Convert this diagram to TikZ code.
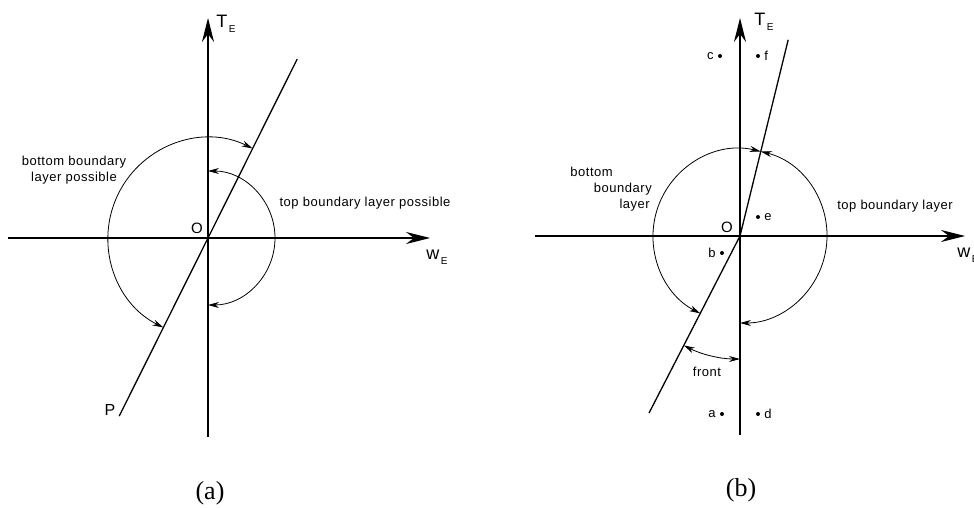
\documentclass[tikz,border=0pt]{standalone}
\usepackage{fontspec}
\setmainfont{Liberation Serif}
\setsansfont{Liberation Sans}
\newfontfamily\lblfont[LetterSpace=4]{Liberation Sans}
\usetikzlibrary{arrows.meta,positioning}
\newcommand{\axlbl}[2]{#1\kern1.5pt\raisebox{-5pt}{\fontsize{10}{10}\selectfont #2}}
\tikzset{
  axis/.style={line width=1.3pt, -{Stealth[length=24pt, width=12pt, inset=8pt]}},
  trace/.style={line width=1.3pt},
  swing/.style={line width=0.8pt,
                {Stealth[length=11pt, width=6pt]}-{Stealth[length=11pt, width=6pt]}},
  lbl/.style={font=\lblfont\fontsize{13}{16}\selectfont, inner sep=0pt},
  sym/.style={font=\sffamily\fontsize{18}{18}\selectfont, inner sep=0pt},
  dot/.style={circle, fill, inner sep=0pt, minimum size=4pt},
  panel/.style={font=\rmfamily\fontsize{26}{26}\selectfont, inner sep=0pt},
}

\begin{document}
\begin{tikzpicture}[x=1pt, y=1pt]
  \useasboundingbox (0,0) rectangle (974,507);

  % (a)
  \begin{scope}[shift={(208,269)}]
    \coordinate (Oa) at (0,0);
    \coordinate (Ta) at (0,220);  \coordinate (Ba) at (0,-199);
    \coordinate (Wa) at (222,0);  \coordinate (La) at (-200,0);
    \coordinate (Pa) at (243.5:199); \coordinate (Qa) at (63.5:200);
    \draw[axis] (Ba) -- (Ta);
    \draw[axis] (La) -- (Wa);
    \draw[trace] (Pa) -- (Qa);
    \draw[swing] ([shift={(63.5:100)}]Oa) arc[start angle=63.5, end angle=243.5, radius=100];
    \draw[swing] ([shift={(90:67)}]Oa) arc[start angle=90, end angle=-90, radius=67];
    \node[sym] (ta) at (18,214) {\axlbl{T}{E}};
    \node[sym] (wa) at (229,-19) {\axlbl{w}{E}};
    \node[sym, font=\sffamily\fontsize{15}{15}\selectfont] (oa) at (-11,10) {O};
    \node[sym, font=\sffamily\fontsize{16}{16}\selectfont] (pa) at (-98,-172) {P};
    \node[lbl, align=center] (bota) at (-134,68) {bottom boundary\\layer possible};
    \node[lbl] (topa) at (157,35) {top boundary layer possible};
    \node[panel] (capa) at (2,-255) {(a)};
  \end{scope}

  % (b)
  \begin{scope}[shift={(740,271)}]
    \coordinate (Ob) at (0,0);
    \coordinate (Tb) at (0,218);  \coordinate (Bb) at (0,-199);
    \coordinate (Wb) at (225,0);  \coordinate (Lb) at (-205,0);
    \coordinate (Pb) at (242.8:199); \coordinate (Qb) at (76.2:202);
    \draw[axis] (Bb) -- (Tb);
    \draw[axis] (Lb) -- (Wb);
    \draw[trace] (Pb) -- (Ob) -- (Qb);
    \draw[swing] ([shift={(76.2:87)}]Ob) arc[start angle=76.2, end angle=242.8, radius=87];
    \draw[swing] ([shift={(76.2:87)}]Ob) arc[start angle=76.2, end angle=-90, radius=87];
    \draw[swing] ([shift={(242.8:123)}]Ob) arc[start angle=242.8, end angle=270, radius=123];
    \foreach \n/\p/\s in {c/{(-20,180)}/left, f/{(18,180)}/right, e/{(18,19)}/right,
                          b/{(-18,-17)}/left, a/{(-18,-178)}/left, d/{(18,-178)}/right}
    {
      \node[dot] (\n) at \p {};
      \node[lbl, \s=4pt of \n] (\n-txt) {\n};
    }
    \node[sym] (tb) at (24,214) {\axlbl{T}{E}};
    \node[sym] (wb) at (228,-19) {\axlbl{w}{E}};
    \node[sym, font=\sffamily\fontsize{15}{15}\selectfont] (ob) at (-13,9) {O};
    \node[lbl] (front) at (-33,-136) {front};
    \node[lbl, align=right, anchor=east] (botb) at (-88,47)
      {bottom\hspace*{39pt}\\boundary\\layer\hspace*{2pt}};
    \node[lbl] (topb) at (155,30) {top boundary layer};
    \node[panel] (capb) at (1,-254) {(b)};
  \end{scope}
\end{tikzpicture}
\end{document}
